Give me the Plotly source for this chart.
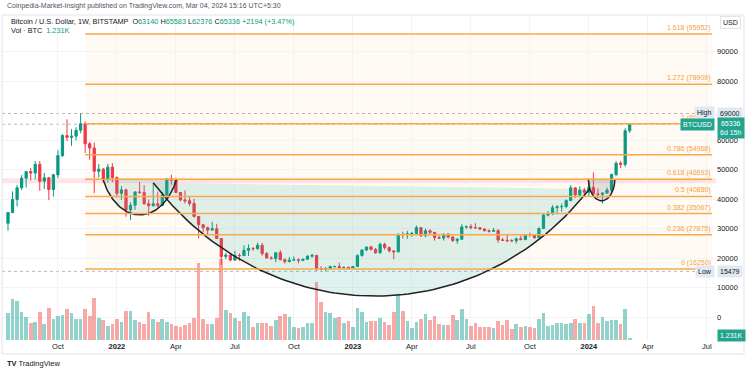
import numpy as np
import pandas as pd
import plotly.graph_objects as go

# ---------------- data ----------------
dates = pd.date_range("2021-07-19", periods=138, freq="W-MON")

opens = [31780, 35400, 39850, 43800, 47050, 49300, 48800, 51750, 46000, 47200,
         43200, 48200, 54700, 61500, 60900, 61300, 63300, 65500, 58700, 57300,
         49400, 50100, 46700, 50800, 47300, 41900, 43100, 36300, 37900, 42400,
         42200, 38400, 37700, 38400, 37800, 41300, 46800, 46400, 42200, 39700,
         39400, 38500, 34100, 31300, 30300, 29450, 29900, 26600, 20500, 21000,
         19300, 20850, 20800, 22600, 23300, 23200, 24300, 21500, 20000, 19800,
         21800, 19400, 18800, 19300, 19400, 19200, 19600, 20600, 20900, 16300,
         16280, 16450, 17100, 17120, 16780, 16840, 16610, 17130, 20870, 22710,
         23740, 22930, 21790, 24640, 23540, 22420, 22100, 28000, 27950, 28180,
         28330, 30300, 27590, 29230, 28700, 26910, 26750, 28080, 27100, 25900,
         26340, 30530, 30600, 30290, 30260, 29860, 29250, 29050, 29300, 26100,
         26000, 25840, 25830, 26530, 26250, 27970, 27920, 26860, 29990, 34530,
         35020, 37060, 37380, 37450, 39460, 43780, 41360, 42990, 42270, 43930,
         41730, 41580, 42030, 42990, 48300, 52130, 51730, 63140]
highs = [35450, 42600, 44800, 48100, 49400, 50500, 52900, 52900, 48800, 47400,
         48500, 56500, 62000, 67000, 63700, 64300, 69000, 66300, 59300, 59100,
         51900, 50500, 51900, 52100, 47600, 44400, 43500, 38900, 42600, 45800,
         44700, 39800, 45400, 42500, 42400, 46900, 48200, 47200, 42400, 42900,
         40800, 40000, 34200, 31400, 30600, 32300, 31600, 26800, 21800, 21500,
         22500, 21600, 24300, 24600, 23600, 25200, 25100, 22000, 20600, 21800,
         22700, 19900, 20400, 20500, 19900, 19700, 21000, 21400, 21000, 17200,
         16900, 17400, 17400, 18400, 16900, 16950, 17200, 21200, 23000, 23800,
         24200, 23400, 25200, 25200, 23900, 22600, 28400, 28900, 29200, 28800,
         31000, 30500, 30000, 29800, 28700, 27600, 28300, 28400, 27400, 26800,
         31400, 31000, 31500, 31800, 30400, 29900, 29700, 30200, 29700, 26800,
         28100, 26400, 26900, 27500, 28000, 28600, 28000, 30400, 35200, 35900,
         37900, 37900, 38400, 39900, 44700, 43800, 44300, 43800, 45900, 49000,
         43600, 42200, 43900, 48600, 52800, 52900, 64000, 65583]
lows = [29300, 35200, 37500, 43100, 43900, 46300, 46600, 42800, 43400, 39600,
        40800, 47100, 54300, 59600, 58000, 59900, 62300, 55600, 53300, 42000,
        47300, 45500, 45600, 45700, 40600, 39700, 34000, 32900, 36300, 41700,
        38000, 34300, 37500, 37200, 37600, 40500, 44900, 42000, 39200, 38500,
        37600, 33700, 26700, 28700, 28000, 29300, 26600, 17600, 19600, 18900,
        19000, 19000, 20700, 20700, 22400, 22700, 20800, 19800, 19500, 18600,
        19400, 18100, 18500, 19100, 18200, 18900, 19300, 20100, 15600, 15800,
        15479, 16000, 16700, 16500, 16300, 16400, 16500, 17100, 20400, 22300,
        22600, 21400, 21400, 22800, 21900, 19600, 21900, 26600, 26500, 27200,
        28200, 27100, 27000, 27700, 25900, 26400, 25900, 26600, 25400, 24800,
        26300, 29900, 29800, 29900, 29500, 29000, 28600, 28800, 25200, 25800,
        25400, 25400, 24900, 26000, 26000, 27200, 26500, 26800, 29900, 34100,
        34500, 34800, 35700, 36900, 39400, 40300, 40600, 41300, 40800, 41500,
        40300, 38500, 41800, 42300, 47700, 50500, 50900, 62376]
closes = opens[1:] + [65336]

volumes_k = [19.5, 29.1, 27.9, 20.0, 16.6, 12.4, 12.9, 20.0, 11.2, 23.1,
             14.8, 17.1, 17.6, 21.9, 19.5, 14.8, 15.2, 22.4, 17.1, 29.8,
             15.9, 14.3, 10.0, 11.2, 15.2, 12.9, 20.7, 20.7, 14.3, 12.9,
             11.2, 20.0, 15.2, 12.9, 15.2, 12.9, 11.2, 10.0, 9.3, 10.5,
             12.4, 15.5, 55.2, 14.8, 11.6, 11.2, 15.9, 58.2, 21.2, 19.5,
             15.9, 13.6, 20.0, 17.1, 9.3, 11.9, 11.9, 11.9, 10.0, 14.3,
             17.1, 18.8, 16.6, 9.5, 8.4, 9.5, 12.4, 11.9, 41.6, 27.1,
             20.0, 19.1, 15.9, 16.4, 11.9, 13.6, 9.3, 23.1, 20.2, 13.1,
             13.6, 13.6, 15.9, 12.9, 10.5, 20.2, 33.1, 20.7, 13.6, 8.4,
             12.9, 14.8, 18.4, 14.3, 17.1, 11.2, 10.5, 10.5, 17.9, 14.3,
             22.4, 14.8, 10.0, 12.4, 9.3, 9.5, 9.3, 8.4, 13.6, 10.5,
             14.3, 8.1, 11.6, 9.5, 10.0, 9.5, 8.4, 14.8, 19.5, 10.0,
             10.5, 11.9, 11.9, 11.2, 11.9, 14.8, 12.4, 11.9, 18.8, 24.3,
             11.9, 16.4, 13.6, 14.1, 14.1, 11.2, 21.9, 1.231]

fib_ratios = ["0", "0.236", "0.382", "0.5", "0.618", "0.786", "1", "1.272", "1.618"]
fib_prices = [16250, 27875, 35067, 40880, 46693, 54968, 65510, 78909, 95952]
fib_start, fib_end = "2021-11-15", "2024-07-09"

price_ticks = [0, 10000, 20000, 30000, 40000, 50000, 60000, 80000, 90000]
time_ticks = ["2021-10-04", "2022-01-03", "2022-04-04", "2022-07-04", "2022-10-03", "2023-01-02",
              "2023-04-03", "2023-07-03", "2023-10-02", "2024-01-01", "2024-04-01", "2024-07-01"]
time_labels = ["Oct", "<b>2022</b>", "Apr", "Jul", "Oct", "<b>2023</b>", "Apr", "Jul", "Oct",
               "<b>2024</b>", "Apr", "Jul"]

high_price, low_price, last_price = 69000, 15479, 65336
band_lo, band_hi = 45300, 47000

# cup drawings: start, end, chord price start/end, bottom price, shape factor
small_cup = ("2021-12-12", "2022-04-05", 47000, 46700, 34600, 1.1)
big_arc = ("2022-02-28", "2024-01-02", 45500, 43400, 7100, 1.3)
handle = ("2023-12-31", "2024-02-10", 46900, 46800, 39400, 1.0)

# ---------------- geometry ----------------
W, H = 750, 372
PL, PR, PT, PB = 2, 716, 16, 340
FIRST_BAR_PX, WEEK_PX = 8, 4.538
ZERO_PX, PX_PER_USD = 317, 0.00295
VOL_PX_PER_K = 1.4


def px_to_date(px):
    return dates[0] + pd.Timedelta(days=(px - FIRST_BAR_PX) / WEEK_PX * 7)


def xp(px):
    return (px - PL) / (PR - PL)


def yp(py):
    return (PB - py) / (PB - PT)


x_range = [px_to_date(PL), px_to_date(PR)]
y_range = [(ZERO_PX - PB) / PX_PER_USD, (ZERO_PX - PT) / PX_PER_USD]
vol_range = [0, (PB - PT) / VOL_PX_PER_K]


def cup(spec, n=90):
    d0, d1, p0, p1, pb, k = spec
    t0, t1 = pd.Timestamp(d0).value, pd.Timestamp(d1).value
    u = np.linspace(-1, 1, n)
    e = np.sqrt(1 - (u / k) ** 2)
    e_end = np.sqrt(1 - 1 / k ** 2)
    f = (e - e_end) / (1 - e_end)
    top = p0 + (p1 - p0) * (u + 1) / 2
    depth = (p0 + p1) / 2 - pb
    return pd.to_datetime(t0 + (t1 - t0) * (u + 1) / 2), top - depth * f


GREEN, RED = "#089981", "#f23645"
VGREEN, VRED = "rgba(38,166,154,0.5)", "rgba(239,83,80,0.5)"
FONT = "Liberation Sans Narrow, Arial Narrow, Liberation Sans, sans-serif"
ORANGE = "#f9a94b"

fig = go.Figure()

vcolors = [VGREEN if c >= o else VRED for o, c in zip(opens, closes)]
fig.add_trace(go.Bar(x=dates, y=volumes_k, marker=dict(color=vcolors, line=dict(width=0)),
                     width=0.8 * 7 * 86400000, yaxis="y", hoverinfo="skip"))

# cup fills
for spec, fillc in [(small_cup, "rgba(110,170,160,0.18)"), (big_arc, "rgba(38,166,154,0.15)"),
                    (handle, "rgba(120,123,134,0.22)")]:
    xs, ys = cup(spec)
    fig.add_trace(go.Scatter(x=xs, y=ys, yaxis="y2", mode="none", fill="toself",
                             fillcolor=fillc, hoverinfo="skip"))

fig.add_trace(go.Candlestick(x=dates, open=opens, high=highs, low=lows, close=closes, yaxis="y2",
                             increasing=dict(line=dict(color=GREEN, width=1), fillcolor=GREEN),
                             decreasing=dict(line=dict(color=RED, width=1), fillcolor=RED),
                             hoverinfo="skip"))

for spec in [small_cup, big_arc, handle]:
    xs, ys = cup(spec)
    fig.add_trace(go.Scatter(x=xs, y=ys, yaxis="y2", mode="lines",
                             line=dict(color="#222222", width=1.5), hoverinfo="skip"))

shapes = []
shapes.append(dict(type="rect", xref="x", yref="y2", x0=fib_start, x1=fib_end,
                   y0=fib_prices[0], y1=fib_prices[-1], fillcolor="rgba(255,152,0,0.045)",
                   line=dict(width=0), layer="below"))
shapes.append(dict(type="rect", xref="paper", yref="y2", x0=0, x1=1, y0=band_lo, y1=band_hi,
                   fillcolor="rgba(242,54,69,0.13)", line=dict(width=0), layer="below"))
for p, c in [(high_price, "#b2b5be"), (low_price, "#b2b5be"), (last_price, "#9fc9c0")]:
    shapes.append(dict(type="line", xref="paper", yref="y2", x0=0, x1=1, y0=p, y1=p,
                       line=dict(color=c, width=1, dash="dot"), layer="below"))
for p in fib_prices:
    shapes.append(dict(type="line", xref="x", yref="y2", x0=fib_start, x1=fib_end, y0=p, y1=p,
                       line=dict(color=ORANGE, width=1.5)))
shapes.append(dict(type="rect", xref="paper", yref="paper", x0=xp(2), x1=xp(744), y0=yp(354), y1=yp(15),
                   line=dict(color="#e0e3eb", width=1), fillcolor="rgba(0,0,0,0)"))

ann = []
for r, p in zip(fib_ratios, fib_prices):
    ann.append(dict(xref="paper", yref="y2", x=xp(713), y=p, yshift=6, xanchor="right", yanchor="middle",
                    text=f"{r} ({p})", showarrow=False, font=dict(family=FONT, size=7, color="#f5a041")))

green_txt = lambda s: f"<span style='color:{GREEN}'>{s}</span>"
ann.append(dict(xref="paper", yref="paper", x=xp(5), y=yp(6.5), xanchor="left", yanchor="middle",
                showarrow=False, text="Coinpedia-Market-Insight published on TradingView.com, Mar 04, 2024 15:16 UTC+5:30",
                font=dict(family=FONT, size=7, color="#50535e")))
ann.append(dict(xref="paper", yref="paper", x=xp(9), y=yp(22), xanchor="left", yanchor="middle",
                showarrow=False,
                text="Bitcoin / U.S. Dollar, 1W, BITSTAMP  O" + green_txt("63140") + " H" + green_txt("65583")
                     + " L" + green_txt("62376") + " C" + green_txt("65336") + " " + green_txt("+2194 (+3.47%)"),
                font=dict(family=FONT, size=7.3, color="#131722")))
ann.append(dict(xref="paper", yref="paper", x=xp(9), y=yp(30.5), xanchor="left", yanchor="middle",
                showarrow=False, text="Vol · BTC  " + green_txt("1.231K"),
                font=dict(family=FONT, size=7.3, color="#131722")))

box = dict(showarrow=False, xref="paper", font=dict(family=FONT, size=7, color="#131722"), borderpad=2)
ann.append(dict(box, yref="paper", x=xp(730), y=yp(23), xanchor="center", yanchor="middle", text="USD",
                bgcolor="white", bordercolor="#e0e3eb", borderwidth=1))
ann.append(dict(box, yref="y2", x=xp(715), y=high_price, xanchor="right", yanchor="middle", text="High",
                bgcolor="#e1e8f2"))
ann.append(dict(box, yref="y2", x=xp(717), y=high_price, xanchor="left", yanchor="middle", text="69000",
                bgcolor="#e1e8f2"))
ann.append(dict(box, yref="y2", x=xp(715), y=low_price, xanchor="right", yanchor="middle", text="Low",
                bgcolor="#e1e8f2"))
ann.append(dict(box, yref="y2", x=xp(717), y=low_price, xanchor="left", yanchor="middle", text="15479",
                bgcolor="#e1e8f2"))
ann.append(dict(box, yref="y2", x=xp(715), y=last_price, xanchor="right", yanchor="middle", text="BTCUSD",
                bgcolor="#22a58f", font=dict(family=FONT, size=7, color="white")))
ann.append(dict(box, yref="y2", x=xp(717), y=last_price, yshift=-4, xanchor="left", yanchor="middle",
                text="65336<br>6d 15h", bgcolor="#22a58f", font=dict(family=FONT, size=7, color="white")))
ann.append(dict(box, yref="paper", x=xp(717), y=yp(335.5), xanchor="left", yanchor="middle", text="1.231K",
                bgcolor="#22a58f", font=dict(family=FONT, size=7, color="white")))
ann.append(dict(xref="paper", yref="paper", x=xp(5), y=yp(363), xanchor="left", yanchor="middle", showarrow=False,
                text="<b>TV</b> TradingView", font=dict(family=FONT, size=7.5, color="#131722")))

fig.update_layout(
    width=W, height=H, margin=dict(l=PL, r=W - PR, t=PT, b=H - PB),
    paper_bgcolor="white", plot_bgcolor="white", showlegend=False, bargap=0,
    shapes=shapes, annotations=ann,
    xaxis=dict(type="date", range=x_range, tickvals=time_ticks, ticktext=time_labels,
               showgrid=True, gridcolor="#f2f3f7", zeroline=False, showline=False, ticks="", ticklen=0,
               tickfont=dict(family=FONT, size=7.5, color="#131722"), rangeslider=dict(visible=False),
               fixedrange=True),
    yaxis=dict(range=vol_range, showgrid=False, showticklabels=False, zeroline=False, fixedrange=True),
    yaxis2=dict(range=y_range, overlaying="y", side="right", tickvals=price_ticks,
                ticktext=[str(v) for v in price_ticks], showgrid=True, gridcolor="#f2f3f7",
                zeroline=False, showline=False, ticks="", ticklen=0,
                tickfont=dict(family=FONT, size=7.5, color="#131722"), fixedrange=True),
)

fig.write_html("out.html", config={"displayModeBar": False},
               post_script="document.body.style.margin='0';document.body.style.overflow='hidden';")
